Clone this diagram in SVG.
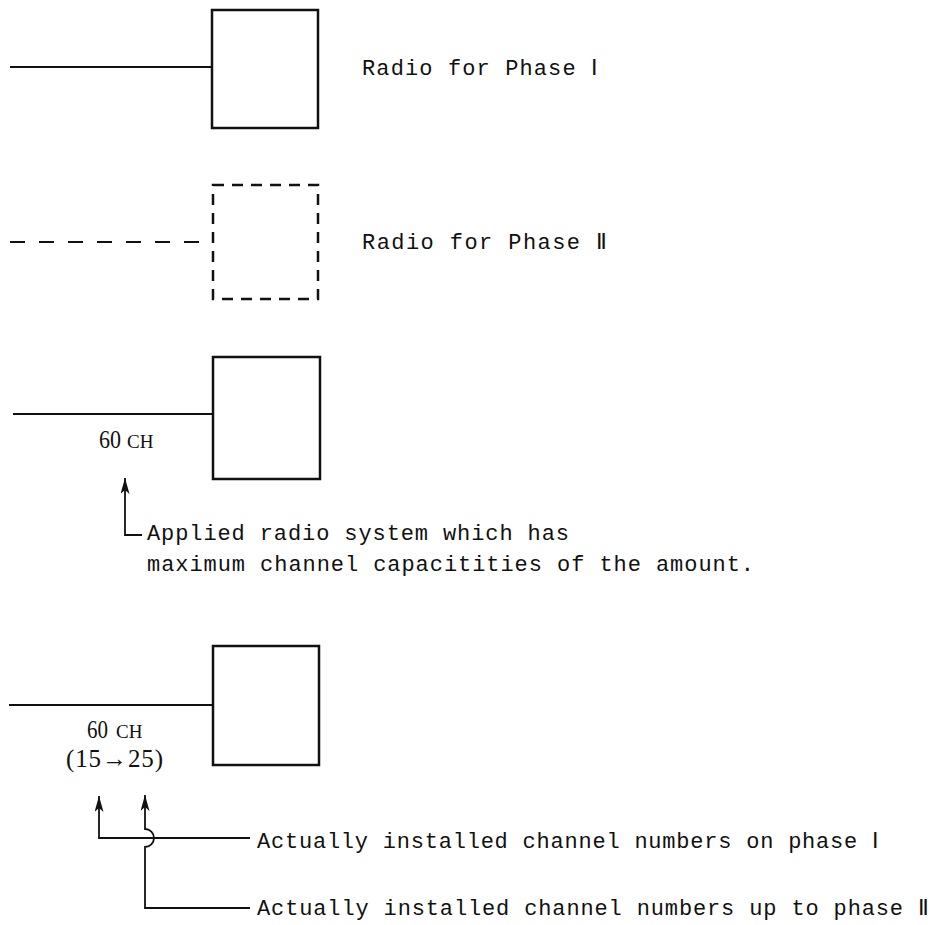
<svg xmlns="http://www.w3.org/2000/svg" width="934" height="925" viewBox="0 0 934 925">
<style>
.box{fill:none;stroke:#111;stroke-width:2.5}
.dbox{fill:none;stroke:#111;stroke-width:2.5;stroke-dasharray:11 8}
.ln{fill:none;stroke:#111;stroke-width:1.8}
.dln{fill:none;stroke:#111;stroke-width:1.8;stroke-dasharray:15 14}
.lead{fill:none;stroke:#111;stroke-width:1.8}
.t{font-family:"Liberation Mono","DejaVu Sans Mono",monospace;font-size:22px;fill:#111}
.num{font-family:"Liberation Serif","DejaVu Serif",serif;font-size:25px;fill:#111}
.ch{font-family:"Liberation Serif","DejaVu Serif",serif;font-size:19px;fill:#111}
</style>
<defs>
<marker id="ah" viewBox="0 0 16 9" refX="16" refY="4.5" markerWidth="16" markerHeight="9" markerUnits="userSpaceOnUse" orient="auto-start-reverse">
<path d="M0,0 L16,4.5 L0,9 L4,4.5 Z" fill="#111"/>
</marker>
</defs>
<rect width="934" height="925" fill="#fff"/>
<g id="legend-phase1">
<line class="ln" x1="10" y1="67" x2="212" y2="67"/>
<rect class="box" x="212" y="10" width="106" height="118"/>
<text class="t" x="362" y="75" textLength="235" lengthAdjust="spacing">Radio for Phase Ⅰ</text>
</g>
<g id="legend-phase2">
<line class="dln" x1="10" y1="242" x2="212" y2="242"/>
<rect class="dbox" x="213" y="185" width="105" height="114"/>
<text class="t" x="362" y="249" textLength="245" lengthAdjust="spacing">Radio for Phase Ⅱ</text>
</g>
<g id="legend-capacity">
<line class="ln" x1="13" y1="414" x2="213" y2="414"/>
<rect class="box" x="213" y="357" width="107" height="122"/>
<text class="num" x="99" y="448" textLength="22" lengthAdjust="spacingAndGlyphs">60</text>
<text class="ch" x="127" y="448">CH</text>
<text class="t" x="147" y="540" textLength="422" lengthAdjust="spacing">Applied radio system which has</text>
<text class="t" x="147" y="571" textLength="607" lengthAdjust="spacing">maximum channel capacitities of the amount.</text>
</g>
<g id="legend-installed">
<line class="ln" x1="9" y1="705" x2="213" y2="705"/>
<rect class="box" x="213" y="646" width="106" height="119"/>
<text class="num" x="87" y="738" textLength="21" lengthAdjust="spacingAndGlyphs">60</text>
<text class="ch" x="116" y="738">CH</text>
<text class="num" x="66" y="767" textLength="97" lengthAdjust="spacing">(15→25)</text>
<text class="t" x="257" y="848" textLength="621" lengthAdjust="spacing">Actually installed channel numbers on phase Ⅰ</text>
<text class="t" x="257" y="915" textLength="672" lengthAdjust="spacing">Actually installed channel numbers up to phase Ⅱ</text>
</g>
<g id="connectors">
<path class="lead" d="M125 478 V535 H142" marker-start="url(#ah)"/>
<path class="lead" d="M99 796 V838 H250" marker-start="url(#ah)"/>
<path class="lead" d="M145 795 V829 A9 9 0 0 1 145 847 V908 H250" marker-start="url(#ah)"/>
</g>
</svg>
